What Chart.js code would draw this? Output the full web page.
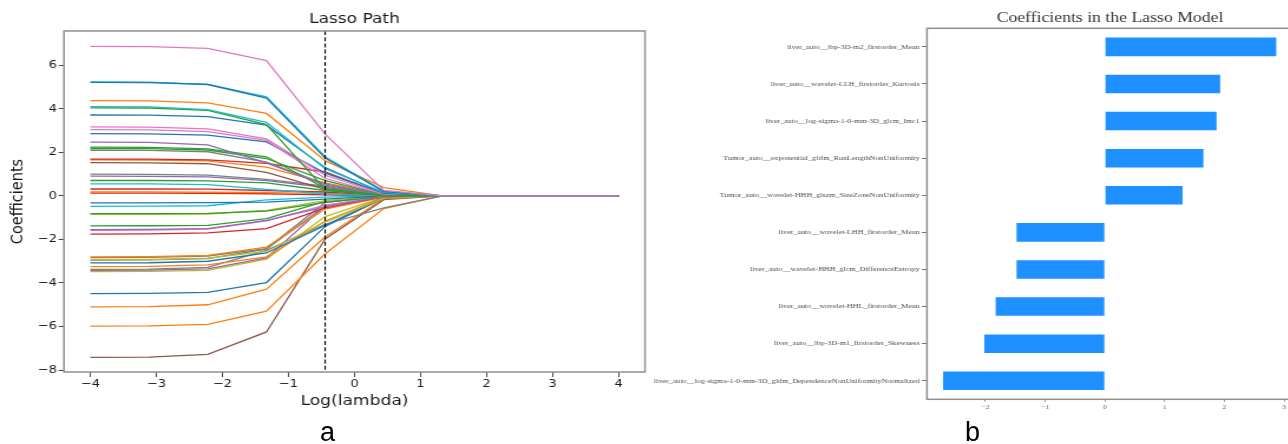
<!DOCTYPE html>
<html>
<head>
<meta charset="utf-8">
<title>Lasso path and selected coefficients</title>
<script src="https://cdn.jsdelivr.net/npm/chart.js@4.4.1/dist/chart.umd.min.js"></script>
<style>
  html, body { margin: 0; padding: 0; background: #fff; width: 1288px; height: 444px; overflow: hidden; position: relative; }
  canvas { position: absolute; top: 0; transform-origin: 0 0; transform: scaleX(1.18); }
  #pathCanvas { left: 0; }
  #coefCanvas { left: 648px; }
  .panel-tag { position: absolute; font-family: "Liberation Sans", Arial, sans-serif; font-size: 27px; line-height: 27px; color: #000; }
</style>
</head>
<body>
<canvas id="pathCanvas" width="560" height="444"></canvas>
<canvas id="coefCanvas" width="560" height="444"></canvas>
<div class="panel-tag" style="left:320px; top:419px;">a</div>
<div class="panel-tag" style="left:965px; top:419px;">b</div>
<script>
// ---------- Lasso path: log(lambda) grid and coefficient paths ----------
const logLambda = [-4, -3.111, -2.222, -1.333, -0.444, 0.444, 1.333, 2.222, 3.111, 4];
const bestLambdaIndex = 4;            // lambda chosen by cross-validation

const p01 = [6.87, 6.86, 6.78, 6.22, 2.84, 0.25, 0, 0, 0, 0];
const p02 = [5.22, 5.21, 5.12, 4.50, 1.74, 0.20, 0, 0, 0, 0];
const p03 = [5.24, 5.23, 5.13, 4.55, 1.80, 0.22, 0, 0, 0, 0];
const p04 = [4.38, 4.37, 4.28, 3.79, 1.62, 0.38, 0, 0, 0, 0];
const p05 = [4.10, 4.09, 3.97, 3.38, 1.25, 0.16, 0, 0, 0, 0];
const p06 = [4.05, 4.04, 3.93, 3.28, 0.30, 0.03, 0, 0, 0, 0];
const p07 = [3.72, 3.71, 3.64, 3.25, 1.30, 0.12, 0, 0, 0, 0];
const p08 = [3.17, 3.16, 3.08, 2.62, 0.95, 0.10, 0, 0, 0, 0];
const p09 = [3.05, 3.04, 2.96, 2.55, 0.80, 0.08, 0, 0, 0, 0];
const p10 = [2.86, 2.85, 2.79, 2.48, 1.05, 0.12, 0, 0, 0, 0];
const p11 = [2.47, 2.46, 2.35, 1.52, 0.50, 0.04, 0, 0, 0, 0];
const p12 = [2.24, 2.23, 2.16, 1.80, 0.35, 0.02, 0, 0, 0, 0];
const p13 = [2.18, 2.17, 2.11, 1.72, 0.70, 0.06, 0, 0, 0, 0];
const p14 = [2.10, 2.09, 2.03, 1.55, 0.55, 0.05, 0, 0, 0, 0];
const p15 = [1.69, 1.69, 1.66, 1.50, 1.10, 0.10, 0, 0, 0, 0];
const p16 = [1.66, 1.65, 1.61, 1.32, 0.60, 0.06, 0, 0, 0, 0];
const p17 = [1.53, 1.52, 1.48, 1.08, 0.30, 0.02, 0, 0, 0, 0];
const p18 = [1.00, 0.99, 0.96, 0.76, 0.45, 0.03, 0, 0, 0, 0];
const p19 = [0.91, 0.90, 0.88, 0.70, 0.40, 0.03, 0, 0, 0, 0];
const p20 = [0.71, 0.71, 0.69, 0.60, 0.25, 0.02, 0, 0, 0, 0];
const p21 = [0.55, 0.55, 0.52, 0.30, 0.10, 0.00, 0, 0, 0, 0];
const p22 = [0.32, 0.32, 0.31, 0.25, 0.18, 0.01, 0, 0, 0, 0];
const p23 = [0.18, 0.18, 0.17, 0.15, 0.12, 0.00, 0, 0, 0, 0];
const p24 = [0.13, 0.13, 0.12, 0.10, 0.05, 0.00, 0, 0, 0, 0];
const n01 = [-0.32, -0.32, -0.31, -0.28, -0.15, 0.00, 0, 0, 0, 0];
const n02 = [-0.48, -0.47, -0.45, -0.18, -0.05, 0.00, 0, 0, 0, 0];
const n03 = [-0.81, -0.81, -0.80, -0.70, -0.30, -0.02, 0, 0, 0, 0];
const n04 = [-0.85, -0.85, -0.83, -0.66, -0.22, -0.02, 0, 0, 0, 0];
const n05 = [-1.38, -1.37, -1.35, -1.04, -0.25, -0.01, 0, 0, 0, 0];
const n06 = [-1.55, -1.54, -1.50, -1.12, -0.50, -0.03, 0, 0, 0, 0];
const n07 = [-1.58, -1.57, -1.52, -1.14, -0.42, -0.02, 0, 0, 0, 0];
const n08 = [-1.75, -1.74, -1.70, -1.50, -0.55, -0.03, 0, 0, 0, 0];
const n09 = [-2.80, -2.79, -2.73, -2.35, -0.60, -0.05, 0, 0, 0, 0];
const n10 = [-2.83, -2.82, -2.76, -2.42, -0.30, -0.02, 0, 0, 0, 0];
const n11 = [-2.93, -2.92, -2.86, -2.55, -1.20, -0.10, 0, 0, 0, 0];
const n12 = [-2.95, -2.94, -2.88, -2.45, -0.45, -0.03, 0, 0, 0, 0];
const n13 = [-3.08, -3.07, -3.00, -2.62, -1.35, -0.08, 0, 0, 0, 0];
const n14 = [-3.25, -3.24, -3.17, -2.80, -1.15, -0.07, 0, 0, 0, 0];
const n15 = [-3.37, -3.36, -3.28, -2.50, -1.30, -0.55, 0, 0, 0, 0];
const n16 = [-3.42, -3.41, -3.35, -2.85, -0.45, -0.03, 0, 0, 0, 0];
const n17 = [-3.48, -3.47, -3.42, -2.90, -0.95, -0.05, 0, 0, 0, 0];
const n18 = [-4.49, -4.48, -4.43, -3.98, -1.40, -0.10, 0, 0, 0, 0];
const n19 = [-5.10, -5.09, -5.00, -4.28, -1.88, -0.12, 0, 0, 0, 0];
const n20 = [-5.98, -5.97, -5.90, -5.29, -2.66, -0.58, 0, 0, 0, 0];
const n21 = [-7.42, -7.41, -7.28, -6.25, -1.98, -0.17, 0, 0, 0, 0];

const coefPaths = [p01, p02, p03, p04, p05, p06, p07, p08, p09, p10, p11, p12,
                   p13, p14, p15, p16, p17, p18, p19, p20, p21, p22, p23, p24,
                   n01, n02, n03, n04, n05, n06, n07, n08, n09, n10, n11, n12,
                   n13, n14, n15, n16, n17, n18, n19, n20, n21];

const pathXTicks = [-4, -3, -2, -1, 0, 1, 2, 3, 4];
const pathYTicks = [-8, -6, -4, -2, 0, 2, 4, 6];

// ---------- Selected features and their coefficients ----------
const featureNames = [
  'liver_auto__lbp-3D-m2_firstorder_Mean',
  'liver_auto__wavelet-LLH_firstorder_Kurtosis',
  'liver_auto__log-sigma-1-0-mm-3D_glcm_Imc1',
  'Tumor_auto__exponential_glrlm_RunLengthNonUniformity',
  'Tumor_auto__wavelet-HHH_glszm_SizeZoneNonUniformity',
  'liver_auto__wavelet-LHH_firstorder_Mean',
  'liver_auto__wavelet-HHH_glcm_DifferenceEntropy',
  'liver_auto__wavelet-HHL_firstorder_Mean',
  'liver_auto__lbp-3D-m1_firstorder_Skewness',
  'liver_auto__log-sigma-1-0-mm-3D_gldm_DependenceNonUniformityNormalized'
];
const coefValues = [2.87, 1.93, 1.87, 1.65, 1.30, -1.48, -1.48, -1.83, -2.02, -2.71];
const coefXTicks = [-2, -1, 0, 1, 2, 3];

// ---------- Styling ----------
const tab10 = {
  blue: '#1f77b4', orange: '#ff7f0e', green: '#2ca02c', red: '#d62728', purple: '#9467bd',
  brown: '#8c564b', pink: '#e377c2', gray: '#7f7f7f', olive: '#bcbd22', cyan: '#17becf'
};
const pathColors = [
  'pink', 'blue', 'cyan', 'orange', 'cyan', 'green', 'blue', 'pink', 'pink', 'blue', 'purple', 'green',
  'green', 'gray', 'red', 'orange', 'brown', 'gray', 'purple', 'green', 'cyan', 'red', 'orange', 'red',
  'blue', 'cyan', 'green', 'olive', 'green', 'purple', 'pink', 'red', 'orange', 'gray', 'olive', 'gray',
  'blue', 'orange', 'gray', 'purple', 'olive', 'blue', 'orange', 'orange', 'brown'
];

const minusSign = v => String(v).replace('-', '\u2212');

const framePlugin = {
  id: 'frame',
  afterDatasetsDraw(chart, args, opts) {
    const { ctx, chartArea: a } = chart;
    ctx.save();
    ctx.strokeStyle = opts.color;
    ctx.lineWidth = opts.width;
    ctx.strokeRect(a.left, a.top, a.right - a.left, a.bottom - a.top);
    ctx.restore();
  }
};

const chosenLambdaPlugin = {
  id: 'chosenLambda',
  afterDatasetsDraw(chart) {
    const { ctx, chartArea: a, scales } = chart;
    const x = scales.x.getPixelForValue(logLambda[bestLambdaIndex]);
    ctx.save();
    ctx.strokeStyle = '#000';
    ctx.lineWidth = 1.1;
    ctx.setLineDash([4, 2.2]);
    ctx.beginPath();
    ctx.moveTo(x, a.top);
    ctx.lineTo(x, a.bottom);
    ctx.stroke();
    ctx.restore();
  }
};

// ---------- Left panel: Lasso path ----------
new Chart(document.getElementById('pathCanvas'), {
  type: 'line',
  data: {
    datasets: coefPaths.map((vals, i) => ({
      data: vals.map((y, j) => ({ x: logLambda[j], y })),
      borderColor: tab10[pathColors[i]],
      borderWidth: 1.3,
      pointRadius: 0,
      tension: 0,
      fill: false
    }))
  },
  plugins: [chosenLambdaPlugin, framePlugin],
  options: {
    responsive: false,
    animation: false,
    events: [],
    layout: { padding: { left: 0, right: 13.4, top: 0, bottom: 33.6 } },
    plugins: {
      legend: { display: false },
      tooltip: { enabled: false },
      frame: { color: '#8f8f8f', width: 1.5 },
      title: {
        display: true, text: 'Lasso Path', fullSize: false,
        color: '#1a1a1a', font: { family: '"DejaVu Sans"', size: 14.4, weight: 'normal' },
        padding: { top: 10.4, bottom: 3.3 }
      }
    },
    scales: {
      x: {
        type: 'linear', min: -4.4, max: 4.4,
        afterBuildTicks: s => { s.ticks = pathXTicks.map(v => ({ value: v })); },
        afterFit: s => { s.height = 38.4; },
        ticks: { color: '#1a1a1a', font: { family: '"DejaVu Sans"', size: 11 }, padding: 1, maxRotation: 0, callback: minusSign },
        grid: { drawOnChartArea: false, tickLength: 5, tickColor: '#444', tickWidth: 1 },
        border: { display: false },
        title: { display: true, text: 'Log(lambda)', color: '#1a1a1a', font: { family: '"DejaVu Sans"', size: 14.5 }, padding: { top: 0, bottom: 0 } }
      },
      y: {
        type: 'linear', min: -8.09, max: 7.58,
        afterBuildTicks: s => { s.ticks = pathYTicks.map(v => ({ value: v })); },
        afterFit: s => { s.width = 54.2; },
        ticks: { color: '#1a1a1a', font: { family: '"DejaVu Sans"', size: 11 }, padding: 1.5, callback: minusSign },
        grid: { drawOnChartArea: false, tickLength: 4.5, tickColor: '#444', tickWidth: 1 },
        border: { display: false },
        title: { display: true, text: 'Coefficients', color: '#1a1a1a', font: { family: '"DejaVu Sans"', size: 14.5 }, padding: { top: 7, bottom: 0 } }
      }
    }
  }
});

// ---------- Right panel: coefficients of the selected features ----------
new Chart(document.getElementById('coefCanvas'), {
  type: 'bar',
  data: {
    labels: featureNames,
    datasets: [{
      data: coefValues,
      backgroundColor: '#1e90ff',
      borderWidth: 0,
      categoryPercentage: 1,
      barPercentage: 0.5
    }]
  },
  plugins: [framePlugin],
  options: {
    indexAxis: 'y',
    responsive: false,
    animation: false,
    events: [],
    layout: { padding: { left: 0, right: 13.4, top: 0, bottom: 29.7 } },
    plugins: {
      legend: { display: false },
      tooltip: { enabled: false },
      frame: { color: '#8f8f8f', width: 1.5 },
      title: {
        display: true, text: 'Coefficients in the Lasso Model', fullSize: false,
        color: '#333', font: { family: '"Liberation Serif"', size: 15, weight: 'normal' },
        padding: { top: 9, bottom: 1.3 }
      }
    },
    scales: {
      x: {
        type: 'linear', min: -2.98, max: 3.15,
        afterBuildTicks: s => { s.ticks = coefXTicks.map(v => ({ value: v })); },
        afterFit: s => { s.height = 15; },
        ticks: { color: '#666', font: { family: '"Liberation Serif"', size: 6.5 }, padding: 1.5, maxRotation: 0, callback: minusSign },
        grid: { drawOnChartArea: false, tickLength: 2.5, tickColor: '#999' },
        border: { display: false }
      },
      y: {
        afterFit: s => { s.width = 236.4; },
        ticks: { color: '#4d4d4d', font: { family: '"Liberation Serif"', size: 6.8 }, padding: 1.8, autoSkip: false },
        grid: { drawOnChartArea: false, offset: false, tickLength: 4.5, tickColor: '#777' },
        border: { display: false }
      }
    }
  }
});
</script>
</body>
</html>
